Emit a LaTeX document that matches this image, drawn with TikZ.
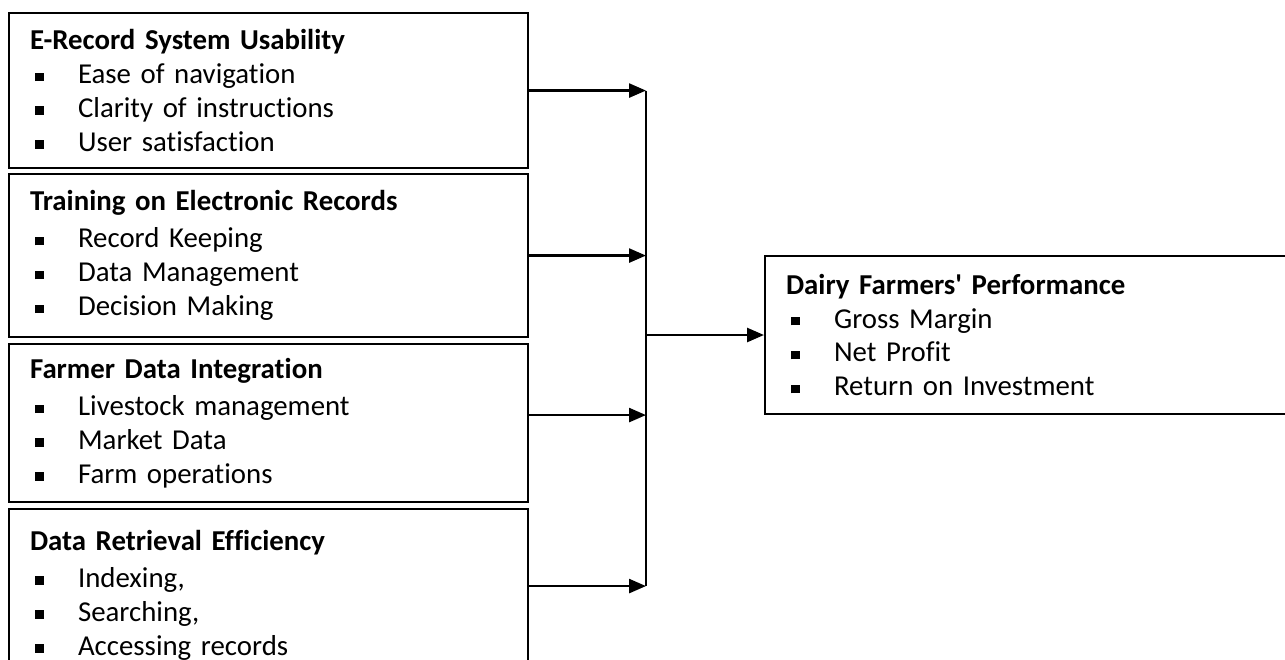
\documentclass[tikz,border=0pt]{standalone}
\usepackage{fontspec}
\setmainfont[Ligatures={NoCommon}]{Carlito}
\usetikzlibrary{arrows.meta}
\newcommand{\sqbullet}{\makebox[0.96cm][l]{\hspace{0.1cm}\rule[0.09em]{0.17cm}{0.17cm}}}

\begin{document}
\begin{tikzpicture}[
	factorbox/.style={draw, line width=1.2pt, anchor=north west, align=left, text width=9.54cm, inner xsep=0.42cm, inner ysep=0pt, font=\fontsize{16.4}{19.3}\selectfont},
	outcomebox/.style={factorbox, anchor=west, text width=9.88cm},
	link/.style={line width=1.5pt, -{Triangle[length=0.34cm, width=0.28cm]}}
	]
	\useasboundingbox (0, 0) rectangle (25.7, -13.18);

	% factor boxes
	\node [factorbox, minimum height=3.10cm] (usability) at (0.16, -0.24) {\textbf{E-Record System Usability}\\
		\sqbullet Ease of navigation\\
		\sqbullet Clarity of instructions\\
		\sqbullet User satisfaction};
	\node [factorbox, minimum height=3.26cm] (training) at (0.16, -3.46) {\textbf{Training on Electronic Records}\\[2pt]
		\sqbullet Record Keeping\\
		\sqbullet Data Management\\
		\sqbullet Decision Making};
	\node [factorbox, minimum height=3.16cm] (integration) at (0.16, -6.86) {\textbf{Farmer Data Integration}\\[2pt]
		\sqbullet Livestock management\\
		\sqbullet Market Data\\
		\sqbullet Farm operations};
	\node [factorbox, minimum height=3.44cm] (retrieval) at (0.16, -10.16) {\textbf{Data Retrieval Efficiency}\\[2pt]
		\sqbullet Indexing,\\
		\sqbullet Searching,\\
		\sqbullet Accessing records};

	% outcome box
	\node [outcomebox, minimum height=3.16cm] (performance) at (15.28, -6.70) {\textbf{Dairy Farmers\textquotesingle\ Performance}\\
		\sqbullet Gross Margin\\
		\sqbullet Net Profit\\
		\sqbullet Return on Investment};

	% arrows into the bus
	\coordinate (bus) at (12.92, 0);
	\draw [link] (usability.east) -- (usability.east -| bus);
	\draw [link] (training.east) -- (training.east -| bus);
	\draw [link] ([yshift=0.16cm]integration.east) -- ([yshift=0.16cm]integration.east -| bus);
	\draw [link] ([yshift=0.18cm]retrieval.east) -- ([yshift=0.18cm]retrieval.east -| bus);
	\draw [line width=1.2pt] (usability.east -| bus) -- ([yshift=0.18cm]retrieval.east -| bus);

	% bus to outcome
	\draw [link] (performance.west -| bus) -- (performance.west);
\end{tikzpicture}
\end{document}
